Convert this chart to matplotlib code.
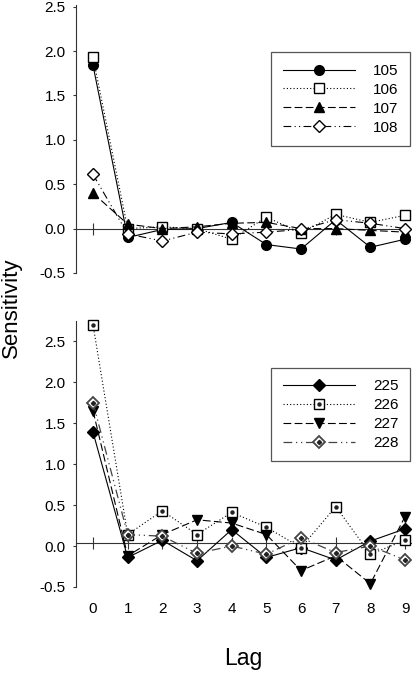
import matplotlib
matplotlib.use('Agg')
import matplotlib.pyplot as plt

plt.rcParams['font.family'] = ['Liberation Sans', 'DejaVu Sans']

# Data
lags = [0, 1, 2, 3, 4, 5, 6, 7, 8, 9]

s105 = [1.84, -0.10, -0.01, 0.00, 0.07, -0.18, -0.23, 0.10, -0.21, -0.12]
s106 = [1.93, 0.00, 0.02, 0.00, -0.12, 0.13, -0.05, 0.16, 0.07, 0.15]
s107 = [0.40, 0.05, 0.00, 0.02, 0.06, 0.07, 0.00, 0.00, -0.02, -0.04]
s108 = [0.61, -0.06, -0.14, -0.04, -0.06, -0.04, -0.01, 0.10, 0.06, 0.00]

s225 = [1.39, -0.14, 0.07, -0.18, 0.20, -0.14, -0.02, -0.17, 0.06, 0.21]
s226 = [2.70, 0.14, 0.43, 0.14, 0.41, 0.23, -0.02, 0.48, -0.10, 0.07]
s227 = [1.65, -0.12, 0.14, 0.32, 0.28, 0.14, -0.30, -0.12, -0.46, 0.36]
s228 = [1.75, 0.14, 0.12, -0.09, 0.00, -0.10, 0.10, -0.08, 0.00, -0.17]

yticks = [-0.5, 0.0, 0.5, 1.0, 1.5, 2.0, 2.5]
ref_lines = [0.0, 0.04]  # y of the horizontal reference line in each panel

DOT = (0, (1, 2))
DASH = (0, (7, 3))
DASHDOTDOT = (0, (7, 3, 1, 3, 1, 3))
AXC = '#333333'


def style_axis(ax, ylim, ref):
    ax.set_xlim(-0.49, 9.2)
    ax.set_ylim(*ylim)
    for side in ['top', 'right']:
        ax.spines[side].set_visible(False)
    ax.spines['left'].set_color(AXC)
    ax.spines['left'].set_linewidth(0.8)
    ax.spines['left'].set_bounds(-0.5, ylim[1])
    # x axis drawn through the reference line, ticks crossing it
    ax.spines['bottom'].set_position(('data', ref))
    ax.spines['bottom'].set_color(AXC)
    ax.spines['bottom'].set_linewidth(0.8)
    ax.set_xticks(lags)
    ax.tick_params(axis='x', direction='inout', length=9, width=0.8,
                   color=AXC, labelbottom=False)
    ax.set_yticks(yticks)
    ax.set_yticklabels([f'{t:.1f}' for t in yticks])
    ax.tick_params(axis='y', direction='out', length=2.5, width=0.8,
                   color=AXC, pad=5, labelsize=11)


def add_legend(ax, handles, labels, y_anchor):
    leg = ax.legend(handles, labels, loc='upper right',
                    bbox_to_anchor=(0.994, y_anchor), borderaxespad=0,
                    fontsize=11, numpoints=1, handlelength=4.7,
                    handletextpad=1.2, labelspacing=0.32, borderpad=0.75,
                    fancybox=False, framealpha=1)
    leg.get_frame().set_edgecolor('#555555')
    leg.get_frame().set_linewidth(0.9)
    return leg


fig = plt.figure(figsize=(4.12, 6.73), dpi=100)

# Top panel
ax1 = fig.add_axes([0.1845, 0.5944, 0.8155, 0.3982])
style_axis(ax1, (-0.5, 2.52), ref_lines[0])
kw = dict(color='black', lw=0.8, ms=7, clip_on=False, zorder=3)
h105, = ax1.plot(lags, s105, ls='-', marker='o', mfc='black', mec='black', **kw)
h106, = ax1.plot(lags, s106, ls=DOT, marker='s', mfc='white', mec='black', **kw)
h107, = ax1.plot(lags, s107, ls=DASH, marker='^', mfc='black', mec='black', **kw)
h108, = ax1.plot(lags, s108, ls=DASHDOTDOT, marker='D', mfc='white', mec='black',
                 color='black', lw=0.8, ms=6, clip_on=False, zorder=3)
add_legend(ax1, [h105, h106, h107, h108], ['105', '106', '107', '108'], 0.823)

# Bottom panel
ax2 = fig.add_axes([0.1845, 0.1278, 0.8155, 0.3945])
style_axis(ax2, (-0.5, 2.74), ref_lines[1])
h225, = ax2.plot(lags, s225, ls='-', marker='D', mfc='black', mec='black',
                 color='black', lw=0.8, ms=6.5, clip_on=False, zorder=3)
h226, = ax2.plot(lags, s226, ls=DOT, marker='s', mfc='white', mec='black',
                 color='black', lw=0.8, ms=6.5, clip_on=False, zorder=3)
d226, = ax2.plot(lags, s226, ls='none', marker='o', mfc='#222222', mec='#222222',
                 ms=2.2, clip_on=False, zorder=4)
h227, = ax2.plot(lags, s227, ls=DASH, marker='v', mfc='black', mec='black', **kw)
h228, = ax2.plot(lags, s228, ls=DASHDOTDOT, marker='D', mfc='white', mec='#444444',
                 mew=1.3, color='#444444', lw=0.9, ms=6.5, clip_on=False, zorder=3)
d228, = ax2.plot(lags, s228, ls='none', marker='D', mfc='#222222', mec='#222222',
                 ms=2.2, clip_on=False, zorder=4)
add_legend(ax2, [h225, (h226, d226), h227, (h228, d228)],
           ['225', '226', '227', '228'], 0.8255)

# Lag labels under the bottom panel
sec = ax2.secondary_xaxis(0)
sec.set_xticks(lags)
sec.set_xticklabels([str(l) for l in lags])
sec.tick_params(length=0, pad=11, labelsize=11)
sec.spines['bottom'].set_visible(False)

fig.text(0.59, 1 - 658 / 673, 'Lag', fontsize=16.5, ha='center', va='center')
fig.text(11 / 412, 1 - 308 / 673, 'Sensitivity', fontsize=16, rotation=90,
         ha='center', va='center')

fig.savefig('out.png', dpi=100)
